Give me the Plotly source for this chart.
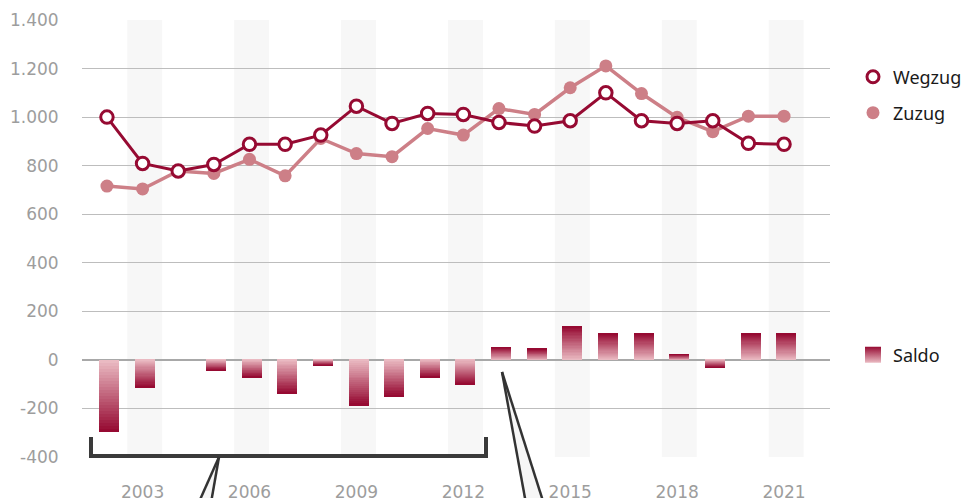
import plotly.graph_objects as go

years = list(range(2002, 2022))
wegzug = [1000, 809, 778, 805, 888, 888, 926, 1045, 974, 1015, 1011, 978, 963, 985, 1100, 985, 974, 985, 892, 888]
zuzug = [716, 704, 778, 768, 826, 758, 912, 850, 837, 953, 926, 1035, 1011, 1121, 1211, 1097, 999, 940, 1004, 1004]
saldo = [-295, -114, 0, -44, -73, -140, -23, -188, -151, -73, -103, 53, 45, 140, 111, 111, 23, -32, 111, 111]

y_tickvals = [-400, -200, 0, 200, 400, 600, 800, 1000, 1200, 1400]
y_ticktext = ["-400", "-200", "0", "200", "400", "600", "800", "1.000", "1.200", "1.400"]
x_tickvals = [2003, 2006, 2009, 2012, 2015, 2018, 2021]
x_ticktext = [str(v) for v in x_tickvals]
band_years = x_tickvals

DARK = "#960a32"
LIGHT_ZU = "#cd7f87"
GRAD_LIGHT = (234, 186, 194)
GRAD_DARK = (150, 10, 50)

# page has an 8px body margin; figure is laid out to land on target pixels
OFF = 8
W, H = 969 - OFF, 498 - OFF
PLOT_L, PLOT_R, PLOT_T, PLOT_B = 82, 830, 20, 457  # page pixels
L = PLOT_L - OFF
T = PLOT_T - OFF
PW = PLOT_R - PLOT_L
PH = PLOT_B - PLOT_T
R = W - L - PW
B = H - T - PH

BAR_W = 0.56
SHIFT = 0.06  # bars and bands sit slightly right of the line points


def px2paper(px, py):
    return (px - PLOT_L) / PW, (PLOT_B - py) / PH


fig = go.Figure()

# gradient bars: stacked segments
N = 24
for k in range(N):
    f = k / (N - 1)
    c = tuple(round(GRAD_LIGHT[i] + (GRAD_DARK[i] - GRAD_LIGHT[i]) * f) for i in range(3))
    fig.add_trace(go.Bar(
        x=years, y=[s / N for s in saldo], width=BAR_W, offset=-BAR_W / 2 + SHIFT,
        marker=dict(color="rgb(%d,%d,%d)" % c, line=dict(width=0)),
        showlegend=False, hoverinfo="skip"))

fig.add_trace(go.Scatter(
    x=years, y=zuzug, mode="lines+markers",
    line=dict(color=LIGHT_ZU, width=3.5),
    marker=dict(size=13, color=LIGHT_ZU), showlegend=False))
fig.add_trace(go.Scatter(
    x=years, y=wegzug, mode="lines+markers",
    line=dict(color=DARK, width=3),
    marker=dict(size=12.5, color="white", line=dict(color=DARK, width=3)), showlegend=False))

# legend-only traces
fig.add_trace(go.Scatter(x=[None], y=[None], mode="markers", name="Wegzug",
                         marker=dict(size=12, color="white", line=dict(color=DARK, width=3)),
                         legend="legend"))
fig.add_trace(go.Scatter(x=[None], y=[None], mode="markers", name="Zuzug",
                         marker=dict(size=13, color=LIGHT_ZU), legend="legend2"))
fig.add_trace(go.Scatter(x=[None], y=[None], mode="markers", name="Saldo",
                         marker=dict(size=16, symbol="square", color="rgb(150,10,50)",
                                     gradient=dict(type="vertical", color="rgb(234,186,194)")),
                         legend="legend3"))

shapes = []
for by in band_years:
    shapes.append(dict(type="rect", xref="x", yref="paper",
                       x0=by - 0.49 + SHIFT, x1=by + 0.49 + SHIFT,
                       y0=0, y1=1, fillcolor="#f7f7f7", line=dict(width=0), layer="below"))

# bracket
x0p, y0p = px2paper(91, 437)
x1p, y1p = px2paper(91, 456)
x2p, _ = px2paper(486, 456)
shapes.append(dict(type="path", xref="paper", yref="paper",
                   path="M %f %f L %f %f L %f %f L %f %f" % (x0p, y0p, x1p, y1p, x2p, y1p, x2p, y0p),
                   line=dict(color="#3a3a3a", width=4)))


def wedge(apex, left, right):
    ax, ay = px2paper(*apex)
    lx, ly = px2paper(*left)
    rx, ry = px2paper(*right)
    return [
        dict(type="path", xref="paper", yref="paper",
             path="M %f %f L %f %f L %f %f Z" % (lx, ly, ax, ay, rx, ry),
             fillcolor="#f6f6f6", line=dict(width=0)),
        dict(type="line", xref="paper", yref="paper", x0=ax, y0=ay, x1=lx, y1=ly,
             line=dict(color="#333333", width=2.5)),
        dict(type="line", xref="paper", yref="paper", x0=ax, y0=ay, x1=rx, y1=ry,
             line=dict(color="#333333", width=2.5)),
    ]


shapes += wedge((219, 457), (191, 520), (208, 520))
shapes += wedge((502, 372), (529, 520), (549, 520))

leg_font = dict(family="Noto Sans", size=18, color="#1a1a1a")


def leg(px, py):
    x, y = px2paper(px, py)
    return dict(x=x, y=y, xanchor="left", yanchor="middle", font=leg_font,
                bgcolor="rgba(0,0,0,0)", borderwidth=0)


fig.update_layout(
    width=W, height=H,
    margin=dict(l=L, r=R, t=T, b=B, autoexpand=False),
    plot_bgcolor="white", paper_bgcolor="white",
    barmode="relative", bargap=0,
    shapes=shapes,
    legend=leg(853, 77),
    legend2=leg(853, 113),
    legend3=leg(853, 355),
    xaxis=dict(range=[2001.3, 2022.29], tickvals=x_tickvals, ticktext=x_ticktext,
               showgrid=False, zeroline=False, showline=False,
               ticks="outside", ticklen=20, tickcolor="rgba(0,0,0,0)",
               tickfont=dict(family="DejaVu Sans", size=17, color="#9d9d9d")),
    yaxis=dict(range=[-400, 1400], tickvals=y_tickvals, ticktext=y_ticktext,
               showgrid=True, gridcolor="#bdbdbd", gridwidth=1,
               zeroline=True, zerolinecolor="#a8a8a8", zerolinewidth=2,
               showline=False, ticks="outside", ticklen=19, tickcolor="rgba(0,0,0,0)",
               tickfont=dict(family="DejaVu Sans", size=17, color="#9d9d9d")),
)

fig.write_html("out.html")
